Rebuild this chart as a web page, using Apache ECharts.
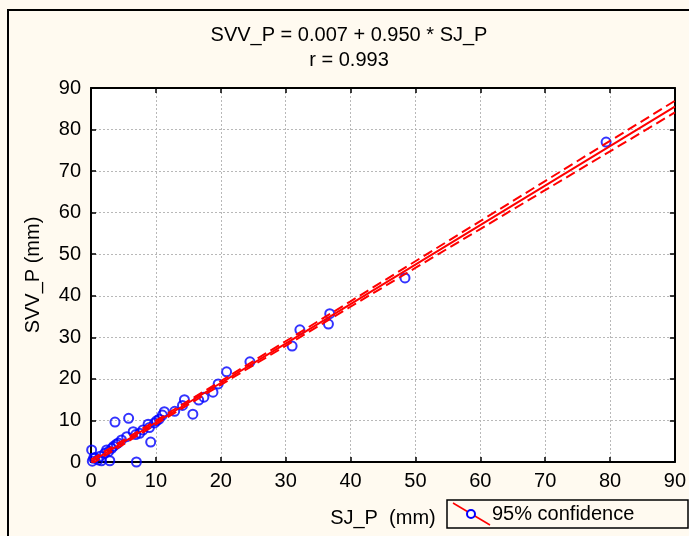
<!DOCTYPE html>
<html>
<head>
<meta charset="utf-8">
<script src="https://cdn.jsdelivr.net/npm/echarts@6/dist/echarts.min.js"></script>
<style>
html,body{margin:0;padding:0;background:#FFFAF0;}
#c{width:689px;height:536px;}
</style>
</head>
<body>
<div id="c"></div>
<script>
// Scatter data
var sjP  = [79.4, 48.4, 36.8, 36.6, 32.2, 31.0, 24.5, 20.9, 19.6, 18.8, 17.4, 16.6, 14.4, 14.1, 15.7, 12.9, 11.3, 10.1, 10.5, 9.0, 8.8, 9.2, 8.0, 7.5, 6.5, 5.8, 3.7, 5.5, 4.7, 3.9, 3.2, 2.7, 2.1, 1.4, 0.6, 0.1, 0.4, 2.9, 1.6, 1.1, 7.0, 4.2, 3.5, 2.4, 0.2, 11.0, 6.9, 9.8];
var svvP = [77.0, 44.3, 35.7, 33.2, 31.8, 27.9, 24.1, 21.7, 18.8, 16.8, 15.6, 14.9, 15.0, 13.6, 11.5, 12.2, 12.1, 9.9, 10.3, 8.3, 9.1, 4.8, 7.7, 6.9, 7.3, 10.5, 9.6, 6.1, 5.3, 4.3, 3.3, 2.5, 2.1, 1.4, 1.1, 2.9, 0.9, 0.3, 0.3, 0.5, 0.0, 4.6, 3.8, 2.9, 0.2, 11.3, 6.6, 9.4];

// Regression line and 95% confidence bands
var lineX  = [0, 10, 20, 30, 40, 50, 60, 70, 80, 90];
var fitY   = [0.01, 9.51, 19.01, 28.51, 38.01, 47.51, 57.01, 66.51, 76.01, 85.51];
var upperY = [0.56, 9.96, 19.46, 29.06, 38.66, 48.31, 57.96, 67.61, 77.26, 86.91];
var lowerY = [-0.54, 9.06, 18.56, 27.96, 37.36, 46.71, 56.06, 65.41, 74.76, 84.11];

var titleLine1 = 'SVV_P = 0.007 + 0.950 * SJ_P';
var titleLine2 = 'r = 0.993';
var xName = 'SJ_P  (mm)';
var yName = 'SVV_P (mm)';
var legendText = '95% confidence';

function pairs(xs, ys){ return xs.map(function(x,i){ return [x, ys[i]]; }); }

var FONT = 'Liberation Sans, Arial, sans-serif';
var FS = 20;
var chart = echarts.init(document.getElementById('c'));

var axisCommon = {
  type: 'value', min: 0, max: 90, interval: 10,
  axisLine: {show: true, onZero: false, lineStyle: {color: '#000', width: 2}},
  axisTick: {show: true, inside: true, length: 5, lineStyle: {color: '#000', width: 1.5}}
};

chart.setOption({
  animation: false,
  backgroundColor: '#FFFAF0',
  grid: {left: 91, top: 88, width: 587, height: 374, show: true, backgroundColor: '#fff', borderWidth: 0},
  xAxis: [
    Object.assign({}, axisCommon, {
      position: 'bottom',
      axisLabel: {color: '#000', fontSize: FS, fontFamily: FONT, margin: 9},
      splitLine: {show: true, lineStyle: {color: '#b8b8b8', width: 1, type: [2, 2]}},
      name: xName, nameLocation: 'middle', nameGap: 46,
      nameTextStyle: {color: '#000', fontSize: FS, fontFamily: FONT}
    }),
    Object.assign({}, axisCommon, {
      position: 'top',
      axisLabel: {show: false},
      splitLine: {show: false}
    })
  ],
  yAxis: [
    Object.assign({}, axisCommon, {
      position: 'left',
      axisLabel: {color: '#000', fontSize: FS, fontFamily: FONT, margin: 10},
      splitLine: {show: true, lineStyle: {color: '#b8b8b8', width: 1, type: [2, 2]}},
      name: yName, nameLocation: 'middle', nameGap: 48,
      nameTextStyle: {color: '#000', fontSize: FS, fontFamily: FONT}
    }),
    Object.assign({}, axisCommon, {
      position: 'right',
      axisLabel: {show: false},
      splitLine: {show: false}
    })
  ],
  series: [
    {
      type: 'scatter', xAxisIndex: 0, yAxisIndex: 0,
      data: pairs(sjP, svvP),
      symbol: 'circle', symbolSize: 9,
      itemStyle: {color: 'rgba(0,0,0,0)', borderColor: '#0000FF', borderWidth: 2},
      z: 2
    },
    {
      type: 'line', xAxisIndex: 0, yAxisIndex: 0,
      data: pairs(lineX, fitY), showSymbol: false,
      lineStyle: {color: '#FF0000', width: 2}, z: 3
    },
    {
      type: 'line', xAxisIndex: 0, yAxisIndex: 0,
      data: pairs(lineX, upperY), showSymbol: false, clip: true,
      lineStyle: {color: '#FF0000', width: 2, type: [10, 5]}, z: 3
    },
    {
      type: 'line', xAxisIndex: 0, yAxisIndex: 0,
      data: pairs(lineX, lowerY), showSymbol: false, clip: true,
      lineStyle: {color: '#FF0000', width: 2, type: [10, 5]}, z: 3
    }
  ],
  graphic: [
    {type: 'rect', shape: {x: 8, y: 10, width: 720, height: 580}, style: {fill: null, stroke: '#000', lineWidth: 2}, silent: true},
    {type: 'text', x: 349, y: 35, style: {text: titleLine1, fill: '#000', font: FS + 'px ' + FONT, textAlign: 'center', textVerticalAlign: 'middle'}},
    {type: 'text', x: 349, y: 60, style: {text: titleLine2, fill: '#000', font: FS + 'px ' + FONT, textAlign: 'center', textVerticalAlign: 'middle'}},
    {type: 'rect', shape: {x: 447, y: 500, width: 241, height: 28}, style: {fill: null, stroke: '#000', lineWidth: 1.5}},
    {type: 'line', shape: {x1: 453, y1: 503, x2: 490, y2: 525}, style: {stroke: '#FF0000', lineWidth: 1.5}},
    {type: 'circle', shape: {cx: 471, cy: 514, r: 4}, style: {fill: '#fff', stroke: '#0000FF', lineWidth: 2}},
    {type: 'text', x: 492, y: 514, style: {text: legendText, fill: '#000', font: FS + 'px ' + FONT, textAlign: 'left', textVerticalAlign: 'middle'}}
  ]
});
</script>
</body>
</html>
